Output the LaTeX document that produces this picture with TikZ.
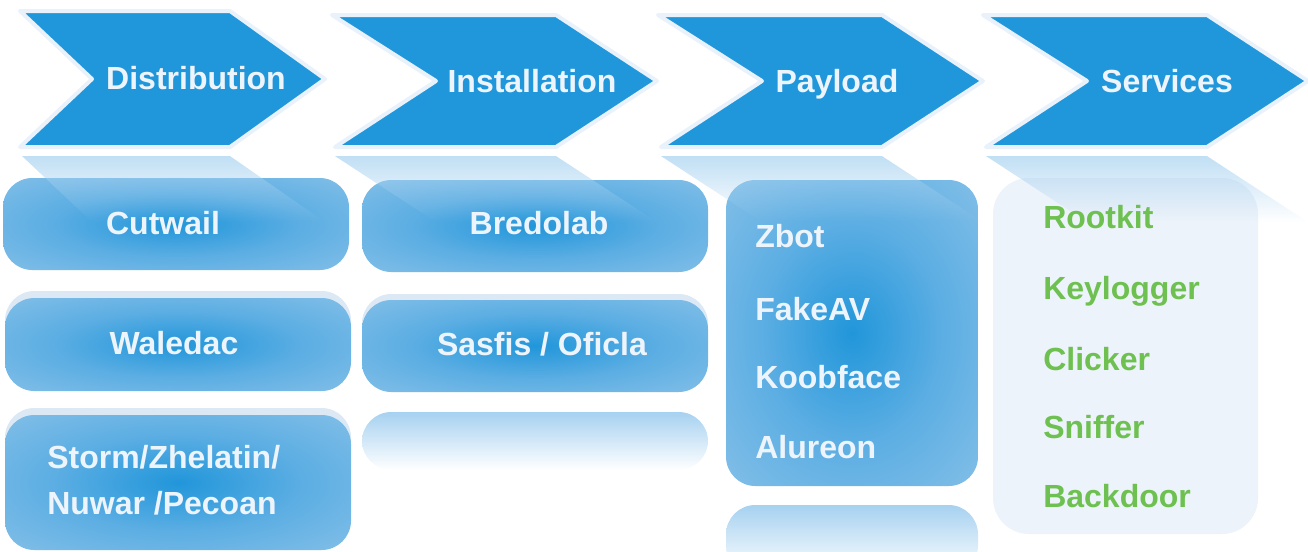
\documentclass[tikz,border=0pt]{standalone}
\usepackage{fontspec}
\setmainfont{Liberation Sans}
\usetikzlibrary{fadings}
\definecolor{chevblue}{RGB}{33,151,219}
\definecolor{chevrim}{RGB}{233,241,250}
\definecolor{glowmid}{RGB}{33,150,218}
\definecolor{glowring}{RGB}{92,174,227}
\definecolor{glowedge}{RGB}{152,200,234}
\definecolor{reflblue}{RGB}{166,209,240}
\definecolor{ghostfill}{RGB}{220,233,245}
\definecolor{palebox}{RGB}{237,243,250}
\definecolor{labelwhite}{RGB}{238,244,251}
\definecolor{itemgreen}{RGB}{110,193,80}
\pgfdeclareradialshading{boxglow}{\pgfpoint{0bp}{0bp}}{color(0bp)=(glowmid); color(18bp)=(glowring); color(46bp)=(glowedge); color(80bp)=(glowedge)}
\tikzset{
  chevron/.style={fill=chevblue, draw=chevrim, line width=3pt, line join=round},
  chevshine/.style={fill=reflblue, path fading=south, fill opacity=0.7},
  glowbox/.style={shading=boxglow, rounded corners=22pt},
  ghostbar/.style={fill=ghostfill, rounded corners=22pt},
  fadebar/.style={top color=reflblue, bottom color=white, rounded corners=22pt},
  steplabel/.style={text=labelwhite, font=\bfseries\fontsize{24}{29}\selectfont, anchor=base, inner sep=0pt},
  botname/.style={text=labelwhite, font=\bfseries\fontsize{24}{34.5}\selectfont, inner sep=0pt},
  svcname/.style={text=itemgreen, font=\bfseries\fontsize{24}{29}\selectfont, anchor=base west, inner sep=0pt}
}
\begin{document}
\begin{tikzpicture}[x=0.75pt, y=-0.75pt]
  \useasboundingbox (0,0) rectangle (1308,551);
  % faint bars behind the boxes
  \fill[ghostbar] (5,291) rectangle (351,350);
  \fill[ghostbar] (5,408) rectangle (351,467);
  \fill[ghostbar] (362,294) rectangle (708,353);
  \shade[fadebar] (362,412) rectangle (708,470);
  \shade[fadebar] (726,505) rectangle (978,575);
  % boxes
  \shade[glowbox] (3,178) rectangle (349,270);
  \shade[glowbox] (5,298) rectangle (351,391);
  \shade[glowbox] (5,415) rectangle (351,550);
  \shade[glowbox] (362,180) rectangle (708,272);
  \shade[glowbox] (362,300) rectangle (708,392);
  \shade[glowbox] (726,180) rectangle (978,486);
  \fill[palebox, rounded corners=27pt] (993,178) rectangle (1258,534);
  % mirrored chevrons
  \fill[chevshine] (22,156) -- (230,156) -- (325,222) -- (92,222) -- cycle;
  \foreach \cx in {332,658,983}
    \fill[chevshine] (\cx+3,156) -- (\cx+224,156) -- (\cx+325,222) -- (\cx+104,222) -- cycle;
  % chevrons
  \filldraw[chevron] (20,11) -- (230,11) -- (325,79) -- (230,147) -- (20,147) -- (92,79) -- cycle;
  \foreach \cx in {332,658,983}
    \filldraw[chevron] (\cx,15) -- (\cx+224,15) -- (\cx+325,81) -- (\cx+224,147) -- (\cx+3,147) -- (\cx+104,81) -- cycle;
  \node[steplabel] (distlabel) at (196,89) {Distribution};
  \node[steplabel] (instlabel) at (532,92) {Installation};
  \node[steplabel] (paylabel) at (837,92) {Payload};
  \node[steplabel] (servlabel) at (1167,92) {Services};
  % family names
  \node[botname, anchor=base] (cutwail) at (163,234) {Cutwail};
  \node[botname, anchor=base] (waledac) at (174,354) {Waledac};
  \node[botname, anchor=base west, align=left] (storm) at (47,514) {Storm/Zhelatin/\\Nuwar /Pecoan};
  \node[botname, anchor=base] (bredolab) at (539,234) {Bredolab};
  \node[botname, anchor=base] (sasfis) at (542,355) {Sasfis / Oficla};
  \node[botname, anchor=base west] (zbot) at (755,247) {Zbot};
  \node[botname, anchor=base west] (fakeav) at (755,320) {FakeAV};
  \node[botname, anchor=base west] (koobface) at (755,388) {Koobface};
  \node[botname, anchor=base west] (alureon) at (755,458) {Alureon};
  \node[svcname] (rootkit) at (1043,228) {Rootkit};
  \node[svcname] (keylogger) at (1043,299) {Keylogger};
  \node[svcname] (clicker) at (1043,370) {Clicker};
  \node[svcname] (sniffer) at (1043,438) {Sniffer};
  \node[svcname] (backdoor) at (1043,507) {Backdoor};
\end{tikzpicture}
\end{document}
